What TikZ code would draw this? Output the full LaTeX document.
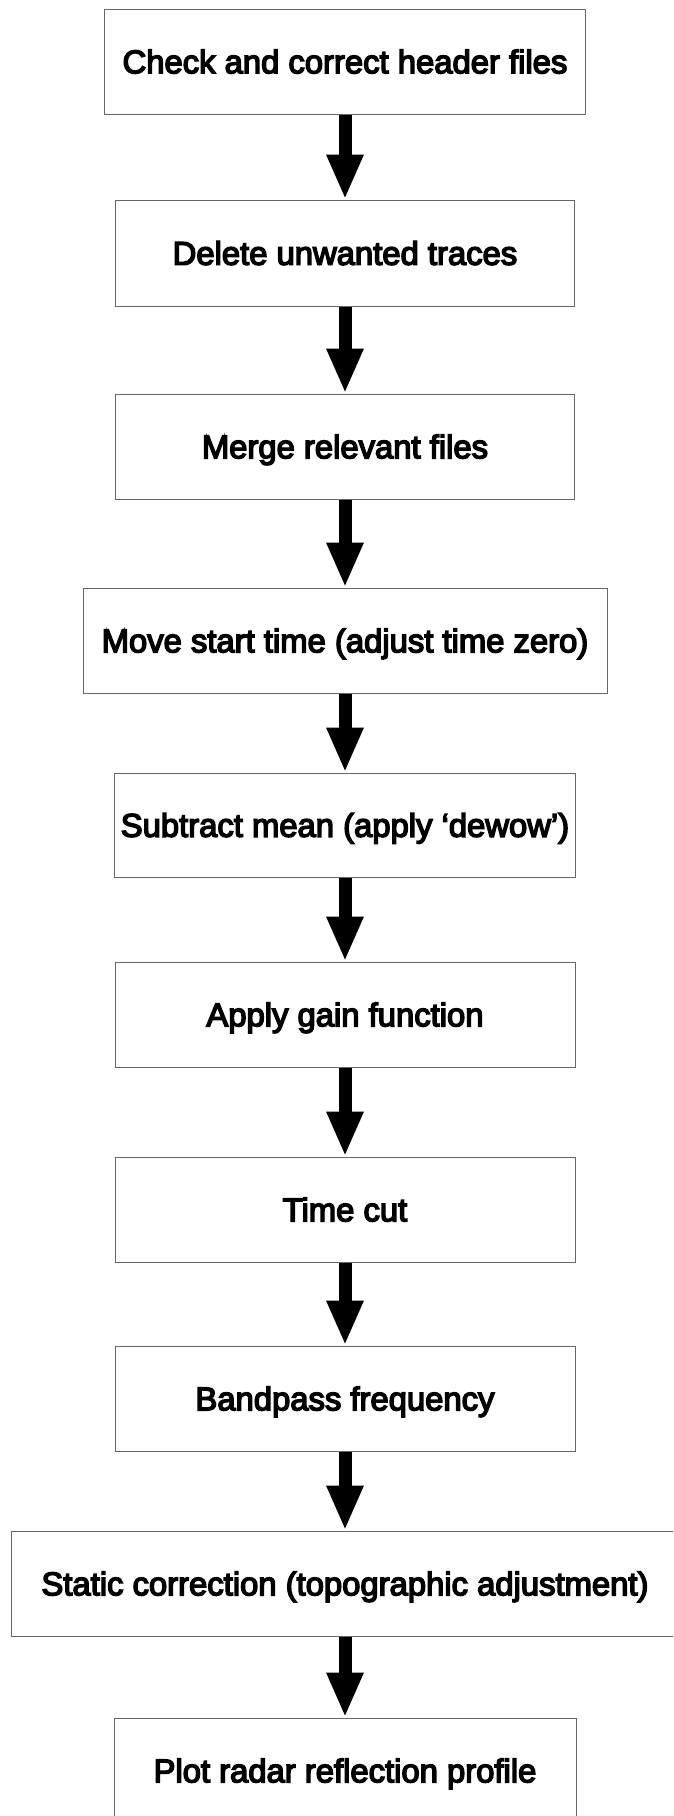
\documentclass[tikz,border=0pt]{standalone}
\usepackage{fontspec}
\setmainfont{Liberation Sans}
\newfontfamily\boxfont{Liberation Sans}[FakeBold=4.5]
\usetikzlibrary{arrows.meta}
\tikzset{
  stepbox/.style={draw=black!60, line width=1pt, rectangle, inner sep=0pt,
    minimum height=105pt, text height=29.5pt, text depth=6pt,
    font=\boxfont\fontsize{32.8pt}{38pt}\selectfont},
  flowarrow/.style={line width=13pt, draw=black,
    -{Triangle[width=38pt,length=43pt,line width=0pt]}, shorten >=2pt}
}
\begin{document}
\begin{tikzpicture}[x=1pt,y=-1pt]
\useasboundingbox (0,0) rectangle (673,1816);
\clip (0,0) rectangle (673,1816);
\fill[white] (0,0) rectangle (673,1816);
\node[stepbox, minimum width=481pt] (b1) at (345,61.5) {Check and correct header files};
\node[stepbox, minimum width=459pt, minimum height=106pt] (b2) at (345,253) {Delete unwanted traces};
\node[stepbox, minimum width=459pt] (b3) at (345,446.5) {Merge relevant files};
\node[stepbox, minimum width=524pt] (b4) at (345,640.5) {Move start time (adjust time zero)};
\node[stepbox, minimum width=461pt, minimum height=104pt] (b5) at (345,825) {Subtract mean (apply ‘dewow’)};
\node[stepbox, minimum width=460pt] (b6) at (345,1014.5) {Apply gain function};
\node[stepbox, minimum width=460pt] (b7) at (345,1209.5) {Time cut};
\node[stepbox, minimum width=460pt] (b8) at (345,1398.5) {Bandpass frequency};
\node[stepbox, minimum width=668pt] (b9) at (345,1583.5) {Static correction (topographic adjustment)};
\node[stepbox, minimum width=462pt] (b10) at (345,1770.5) {Plot radar reflection profile};
\foreach \a/\b in {b1/b2,b2/b3,b3/b4,b4/b5,b5/b6,b6/b7,b7/b8,b8/b9,b9/b10}
  \draw[flowarrow] (\a.south) -- (\b.north);
\end{tikzpicture}
\end{document}
